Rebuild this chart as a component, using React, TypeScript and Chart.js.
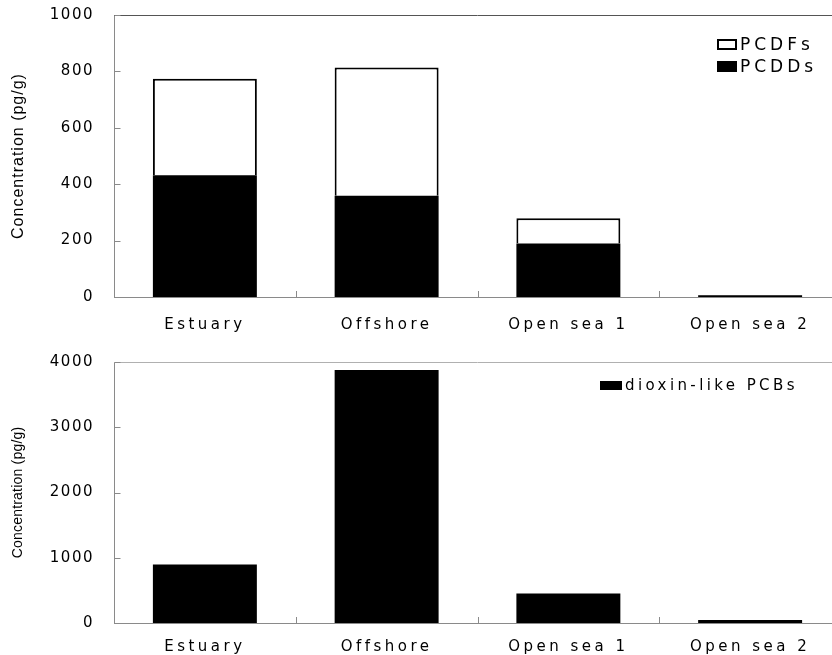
import React, { useEffect, useRef } from 'react';
import { Chart, registerables } from 'chart.js';

Chart.register(...registerables);

// ---------- data ----------
const categories = ['Estuary', 'Offshore', 'Open sea 1', 'Open sea 2'];
const pcdds = [432, 359, 190, 6];
const pcdfs = [342, 455, 89, 1];
const pcbs = [897, 3877, 452, 45];
const topMax = 1000;
const topStep = 200;
const bottomMax = 4000;
const bottomStep = 1000;
const yTitle = 'Concentration (pg/g)';
const labelPCDFs = 'PCDFs';
const labelPCDDs = 'PCDDs';
const labelPCBs = 'dioxin-like PCBs';

const TICK_FONT = "'DejaVu Sans', sans-serif";
const TITLE_FONT = "'Liberation Sans', Arial, sans-serif";

// letter-spacing per scale (patched around Chart.js own drawing)
function spacingPlugin(cfg: Record<string, { ticks?: string; title?: string }>) {
  return {
    id: 'textSpacing',
    afterLayout(chart: any) {
      Object.keys(chart.scales).forEach((id) => {
        const scale = chart.scales[id];
        const c = cfg[id];
        if (!c || scale.__spaced) return;
        scale.__spaced = true;
        const wrap = (m: string, sp?: string) => {
          if (!sp) return;
          const orig = scale[m];
          scale[m] = function (...a: any[]) {
            const ctx = this.ctx;
            const prev = ctx.letterSpacing;
            ctx.letterSpacing = sp;
            try {
              orig.apply(this, a);
            } finally {
              ctx.letterSpacing = prev || '0px';
            }
          };
        };
        wrap('drawLabels', c.ticks);
        wrap('drawTitle', c.title);
      });
    },
  };
}

// top frame line and inward tick marks
function framePlugin(topColor: string, tickColor: string) {
  return {
    id: 'frame',
    afterDraw(chart: any) {
      const { ctx, chartArea: ca, scales } = chart;
      ctx.save();
      ctx.lineWidth = 1;
      ctx.strokeStyle = topColor;
      ctx.beginPath();
      const ty = Math.round(ca.top) + 0.5;
      ctx.moveTo(ca.left, ty);
      ctx.lineTo(ca.right, ty);
      ctx.stroke();
      ctx.strokeStyle = tickColor;
      ctx.beginPath();
      const y = scales.y;
      const lx = Math.round(ca.left) + 0.5;
      y.ticks.forEach((t: any) => {
        const py = Math.round(y.getPixelForValue(t.value)) + 0.5;
        ctx.moveTo(lx, py);
        ctx.lineTo(lx + 6, py);
      });
      const x = scales.x;
      for (let i = 0; i < x.ticks.length - 1; i++) {
        const px = Math.round((x.getPixelForValue(i) + x.getPixelForValue(i + 1)) / 2) + 0.5;
        ctx.moveTo(px, ca.bottom);
        ctx.lineTo(px, ca.bottom - 6);
      }
      ctx.stroke();
      ctx.restore();
    },
  };
}

interface LegendCfg {
  order: number[];
  x: number;
  y: number;
  rowGap: number;
  boxW: number;
  boxH: number;
  textX: number;
  fontSize: number;
  spacing: string;
}

function legendPlugin(cfg: LegendCfg) {
  return {
    id: 'boxLegend',
    afterDraw(chart: any) {
      const { ctx } = chart;
      ctx.save();
      ctx.font = `${cfg.fontSize}px ${TICK_FONT}`;
      ctx.letterSpacing = cfg.spacing;
      ctx.textBaseline = 'middle';
      ctx.textAlign = 'left';
      cfg.order.forEach((idx, k) => {
        const ds = chart.data.datasets[idx];
        const cy = cfg.y + k * cfg.rowGap;
        const bx = cfg.x;
        const by = Math.round(cy - cfg.boxH / 2);
        ctx.fillStyle = ds.backgroundColor;
        ctx.fillRect(bx, by, cfg.boxW, cfg.boxH);
        const bw = ds.borderWidth || 0;
        if (bw > 0) {
          ctx.lineWidth = bw;
          ctx.strokeStyle = ds.borderColor;
          ctx.strokeRect(bx + bw / 2, by + bw / 2, cfg.boxW - bw, cfg.boxH - bw);
        }
        ctx.fillStyle = '#000';
        ctx.fillText(ds.label, cfg.textX, cy + 1);
      });
      ctx.restore();
    },
  };
}

function buildConfig(opts: {
  datasets: any[];
  max: number;
  step: number;
  padTop: number;
  xHeight: number;
  xPad: number;
  titleSize: number;
  titleSpacing: string;
  titlePad: number;
  topColor: string;
  legend: LegendCfg;
}): any {
  return {
    type: 'bar',
    data: { labels: categories, datasets: opts.datasets },
    options: {
      responsive: false,
      animation: false,
      maintainAspectRatio: false,
      layout: { padding: { top: opts.padTop, left: 0, right: 0, bottom: 0 } },
      plugins: { legend: { display: false }, tooltip: { enabled: false } },
      scales: {
        x: {
          stacked: true,
          grid: { display: false, drawTicks: false },
          border: { display: true, color: '#8a8a8a', width: 1 },
          ticks: {
            color: '#000',
            font: { family: TICK_FONT, size: 15 },
            padding: opts.xPad,
            maxRotation: 0,
            autoSkip: false,
          },
          afterFit: (s: any) => {
            s.height = opts.xHeight;
            s.paddingLeft = 0;
            s.paddingRight = 0;
          },
        },
        y: {
          stacked: true,
          min: 0,
          max: opts.max,
          grid: { display: false, drawTicks: false },
          border: { display: true, color: '#8a8a8a', width: 1 },
          ticks: {
            stepSize: opts.step,
            color: '#000',
            font: { family: TICK_FONT, size: 15 },
            padding: 20,
            callback: (v: any) => String(v),
          },
          title: {
            display: true,
            text: yTitle,
            color: '#000',
            font: { family: TITLE_FONT, size: opts.titleSize },
            padding: { top: opts.titlePad, bottom: 0 },
          },
          afterFit: (s: any) => {
            s.width = 114;
            s.paddingTop = 0;
            s.paddingBottom = 0;
          },
        },
      },
    },
    plugins: [
      spacingPlugin({ x: { ticks: '3.5px' }, y: { ticks: '1.5px', title: opts.titleSpacing } }),
      framePlugin(opts.topColor, '#8a8a8a'),
      legendPlugin(opts.legend),
    ],
  };
}

export default function App() {
  const topRef = useRef<HTMLCanvasElement>(null);
  const botRef = useRef<HTMLCanvasElement>(null);

  useEffect(() => {
    const barCommon = { categoryPercentage: 1, barPercentage: 0.572 };
    const top = new Chart(
      topRef.current!,
      buildConfig({
        datasets: [
          { label: labelPCDDs, data: pcdds, backgroundColor: '#000', borderColor: '#000', borderWidth: 0, ...barCommon },
          { label: labelPCDFs, data: pcdfs, backgroundColor: '#fff', borderColor: '#000', borderWidth: 2, ...barCommon },
        ],
        max: topMax,
        step: topStep,
        padTop: 15,
        xHeight: 43,
        xPad: 19,
        titleSize: 16,
        titleSpacing: '1px',
        titlePad: 9,
        topColor: '#555',
        legend: { order: [1, 0], x: 717, y: 44.5, rowGap: 22, boxW: 20, boxH: 11, textX: 740, fontSize: 17, spacing: '4px' },
      })
    );
    const bottom = new Chart(
      botRef.current!,
      buildConfig({
        datasets: [
          { label: labelPCBs, data: pcbs, backgroundColor: '#000', borderColor: '#000', borderWidth: 0, ...barCommon },
        ],
        max: bottomMax,
        step: bottomStep,
        padTop: 22,
        xHeight: 32,
        xPad: 15,
        titleSize: 14,
        titleSpacing: '0.2px',
        titlePad: 10,
        topColor: '#b0b0b0',
        legend: { order: [0], x: 600, y: 45, rowGap: 22, boxW: 22, boxH: 9, textX: 625, fontSize: 15, spacing: '3.4px' },
      })
    );
    return () => {
      top.destroy();
      bottom.destroy();
    };
  }, []);

  return (
    <div
      style={{
        position: 'fixed',
        left: 0,
        top: 0,
        width: 832,
        height: 655,
        overflow: 'hidden',
        background: '#fff',
      }}
    >
      <canvas
        ref={topRef}
        width={841}
        height={340}
        style={{ position: 'absolute', left: 0, top: 0, width: 841, height: 340, display: 'block' }}
      />
      <canvas
        ref={botRef}
        width={841}
        height={315}
        style={{ position: 'absolute', left: 0, top: 340, width: 841, height: 315, display: 'block' }}
      />
    </div>
  );
}
